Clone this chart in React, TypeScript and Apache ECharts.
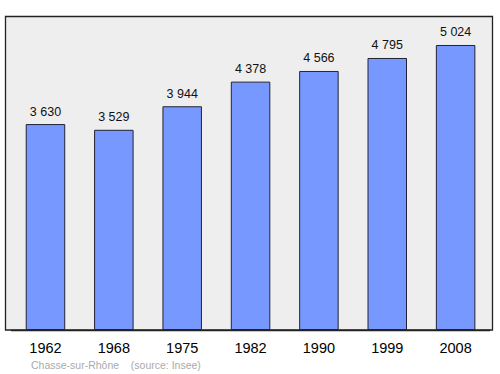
import React, { useEffect, useRef } from "react";
import * as echarts from "echarts";

const years = ["1962", "1968", "1975", "1982", "1990", "1999", "2008"];
const population = [3630, 3529, 3944, 4378, 4566, 4795, 5024];
const footerText = "Chasse-sur-Rhône    (source: Insee)";

const fmt = (v: number) => {
  const s = String(v);
  return s.replace(/\B(?=(\d{3})+(?!\d))/g, " ");
};

const FONT = "Liberation Sans";

export default function App() {
  const ref = useRef<HTMLDivElement>(null);
  useEffect(() => {
    if (!ref.current) return;
    const chart = echarts.init(ref.current, undefined, { renderer: "svg" });
    chart.setOption({
      animation: false,
      backgroundColor: "#ffffff",
      textStyle: { fontFamily: FONT },
      graphic: [
        {
          type: "rect",
          z: -10,
          shape: { x: 5.5, y: 16.5, width: 487, height: 313.5 },
          style: { fill: "#eeeeee", stroke: "#222222", lineWidth: 1.3 },
          silent: true,
        },
        {
          type: "text",
          x: 31,
          y: 359.5,
          style: {
            text: footerText,
            fill: "#aaaaaa",
            font: "10.5px Liberation Sans",
          },
        },
      ],
      grid: { left: 11.3, top: 16, width: 478.5, height: 314 },
      xAxis: {
        type: "category",
        data: years,
        axisLine: { show: true, lineStyle: { color: "#222222", width: 1.3 } },
        axisTick: { show: false },
        axisLabel: {
          color: "#000000",
          fontSize: 14.5,
          margin: 10,
          fontFamily: FONT,
        },
      },
      yAxis: {
        type: "value",
        min: 0,
        max: 5535,
        show: false,
        splitLine: { show: false },
      },
      series: [
        {
          type: "bar",
          data: population,
          barWidth: 39.5,
          itemStyle: { color: "#7799ff", borderColor: "#222233", borderWidth: 1 },
          label: {
            show: true,
            position: "top",
            distance: 6,
            color: "#111111",
            fontSize: 12.5,
            fontFamily: FONT,
            formatter: (p: any) => fmt(p.value),
          },
        },
      ],
    });
    return () => chart.dispose();
  }, []);
  return <div ref={ref} style={{ width: 500, height: 374, position: "absolute", left: 0, top: 0 }} />;
}
